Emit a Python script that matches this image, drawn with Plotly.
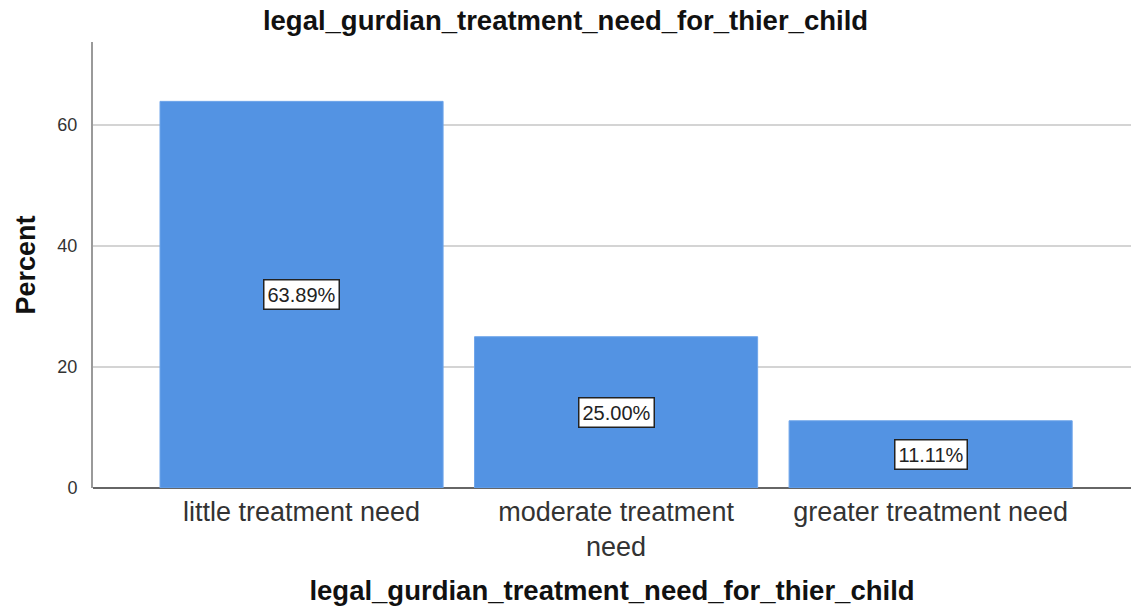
import plotly.graph_objects as go

categories = ["little treatment need", "moderate treatment<br>need", "greater treatment need"]
percents = [63.89, 25.00, 11.11]
value_labels = ["63.89%", "25.00%", "11.11%"]
y_ticks = [0, 20, 40, 60]

title_text = "legal_gurdian_treatment_need_for_thier_child"

fig = go.Figure()
fig.add_trace(go.Bar(
    x=list(range(len(categories))),
    y=percents,
    width=0.9,
    marker=dict(color="#5393E3", line=dict(color="#6FA5EA", width=1)),
    hoverinfo="skip",
))

for i, (v, lab) in enumerate(zip(percents, value_labels)):
    fig.add_annotation(
        x=i, y=v / 2, text=lab, showarrow=False,
        font=dict(family="Liberation Sans, Arial", size=20, color="#222"),
        bgcolor="white", bordercolor="#222", borderwidth=1.5, borderpad=3,
    )

fig.update_layout(
    width=1131, height=606,
    margin=dict(l=93, r=0, t=42, b=118),
    paper_bgcolor="white", plot_bgcolor="white",
    showlegend=False,
    font=dict(family="Liberation Sans, Arial", color="#222"),
    title=dict(text="<b>" + title_text + "</b>", x=0.5, xanchor="center",
               y=0.967, yanchor="middle", font=dict(size=27.5, color="#111")),
    bargap=0.1,
)

fig.update_xaxes(
    range=[-0.663, 2.637],
    tickmode="array", tickvals=list(range(len(categories))), ticktext=categories,
    tickfont=dict(size=27, color="#333"),
    showgrid=False, zeroline=False,
    showline=False, ticks="", ticklabelstandoff=5,
    title=dict(text="<b>" + title_text + "</b>", font=dict(size=27.5, color="#111"), standoff=20),
)

fig.update_yaxes(
    range=[0, 73.7],
    tickmode="array", tickvals=y_ticks,
    tickfont=dict(size=18, color="#333"),
    showgrid=True, gridcolor="#D4D4D4", gridwidth=2,
    zeroline=True, zerolinecolor="#666", zerolinewidth=2,
    showline=True, linecolor="#9A9A9A", linewidth=2,
    ticks="", ticklabelstandoff=10,
    title=dict(text="<b>Percent</b>", font=dict(size=27, color="#111"), standoff=14),
)

fig.write_html("out.html")
